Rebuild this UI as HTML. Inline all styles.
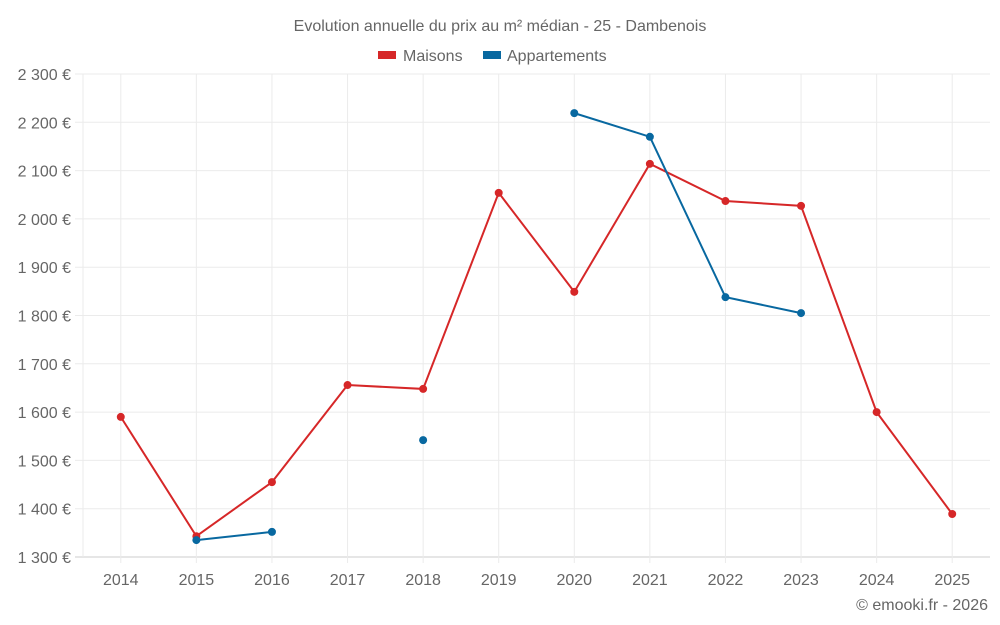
<!DOCTYPE html>
<html><head><meta charset="utf-8"><style>
body{margin:0;background:#fff;}
svg{display:block;font-family:"Liberation Sans",sans-serif;}
</style></head><body>
<svg id="chart" width="1000" height="625">
<text x="500" y="31" text-anchor="middle" font-size="16" fill="#666">Evolution annuelle du prix au m² médian - 25 - Dambenois</text>
<g><rect x="378" y="51" width="18" height="8" fill="#d62728"/><text x="403" y="61" font-size="16" fill="#666">Maisons</text></g>
<g><rect x="483" y="51" width="18" height="8" fill="#0868a0"/><text x="507" y="61" font-size="16" fill="#666">Appartements</text></g>
<text x="988" y="610" text-anchor="end" font-size="16" fill="#666">© emooki.fr - 2026</text>
<g id="grid"></g><g id="axes"></g><g id="series"></g>
</svg>
<script>
const years=[2014,2015,2016,2017,2018,2019,2020,2021,2022,2023,2024,2025];
const maisons=[1590,1343,1455,1656,1648,2054,1849,2114,2037,2027,1600,1389];
const apparts=[null,1335,1352,null,1542,null,2219,2170,1838,1805,null,null];
const yTicks=[1300,1400,1500,1600,1700,1800,1900,2000,2100,2200,2300];
const NS="http://www.w3.org/2000/svg";
const L=83,R=990,T=74,B=557;
const step=(R-L)/years.length;
const xs=i=>L+step*(i+0.5);
const ys=v=>B-(v-1300)/1000*(B-T);
function mk(t,a,p){const e=document.createElementNS(NS,t);for(const k in a)e.setAttribute(k,a[k]);p.appendChild(e);return e;}
const grid=document.getElementById('grid'),axes=document.getElementById('axes'),ser=document.getElementById('series');
yTicks.forEach(v=>{
 const l=mk('line',{x1:75,x2:R,y1:ys(v),y2:ys(v),stroke:v===1300?'#ccc':'#ebebeb','stroke-width':1},grid);
 
 
 const t=mk('text',{x:71,y:ys(v)+6,'text-anchor':'end','font-size':16,fill:'#666'},axes);
 t.textContent=String(v).replace(/(\d)(\d{3})$/,'$1 $2')+' €';
 
 
});
mk('line',{x1:L,x2:L,y1:T,y2:B,stroke:'#ebebeb'},grid);
years.forEach((y,i)=>{
 const l=mk('line',{x1:xs(i),x2:xs(i),y1:T,y2:B+6,stroke:'#ebebeb'},grid);
 
 
 const t=mk('text',{x:xs(i),y:585,'text-anchor':'middle','font-size':16,fill:'#666'},axes);
 t.textContent=y;
 
 
});
function draw(vals,color,name){
 let segs=[],cur=[];
 vals.forEach((v,i)=>{if(v==null){if(cur.length)segs.push(cur);cur=[];}else cur.push([xs(i),ys(v)]);});
 if(cur.length)segs.push(cur);
 segs.forEach(s=>{if(s.length>1){const p=mk('polyline',{points:s.map(q=>q.join(',')).join(' '),fill:'none',stroke:color,'stroke-width':2},ser);
 
 }});
 vals.forEach((v,i)=>{if(v==null)return;const c=mk('circle',{cx:xs(i),cy:ys(v),r:4,fill:color},ser);
 
 });
}
draw(maisons,'#d62728','maisons');
draw(apparts,'#0868a0','appartements');
</script>
</body></html>
